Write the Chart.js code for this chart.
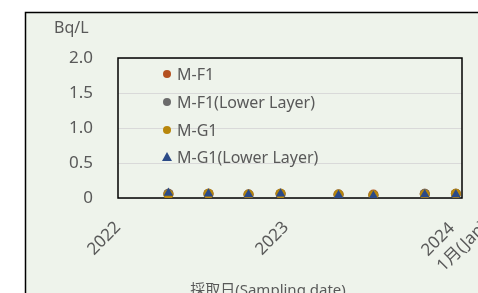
<!DOCTYPE html>
<html>
<head>
<meta charset="utf-8">
<script src="https://cdn.jsdelivr.net/npm/chart.js@4.4.1/dist/chart.umd.min.js"></script>
<style>
html,body{margin:0;padding:0;background:#fff;}
#wrap{width:478px;height:293px;position:relative;}
</style>
</head>
<body>
<div id="wrap"><canvas id="c" width="478" height="293"></canvas></div>
<script>
// ---- data ----
const sampleDates = ["2022-04-18","2022-07-12","2022-10-05","2022-12-12","2023-04-14","2023-06-27","2023-10-14","2023-12-19"];
const mF1      = [0.06,0.06,0.05,0.06,0.05,0.05,0.06,0.06];
const mF1Lower = [0.06,0.06,0.05,0.06,0.05,0.04,0.06,0.06];
const mG1      = [0.05,0.06,0.05,0.06,0.05,0.04,0.05,0.06];
const mG1Lower = [0.07,0.06,0.05,0.06,0.04,0.03,0.05,0.05];
const seriesNames = ["M-F1","M-F1(Lower Layer)","M-G1","M-G1(Lower Layer)"];
const tickDates = ["2022-01-01","2023-01-01","2024-01-01"];
const tickLabels = ["2022","2023",["2024","1月(Jan)"]];
const yTicks = [0,0.5,1.0,1.5,2.0];
const yUnit = "Bq/L";
const xTitle = "採取日(Sampling date)";

const origin = Date.UTC(2022,0,1);
const dayNum = s => { const p = s.split("-").map(Number); return (Date.UTC(p[0],p[1]-1,p[2]) - origin)/86400000; };
const tickVals = tickDates.map(dayNum);
const pts = arr => arr.map((v,i)=>({x:dayNum(sampleDates[i]), y:v}));

const colors = ["#b4501f","#6b6b6b","#b8860b","#2b4a87"];
const styles = ["circle","circle","circle","triangle"];
const FONT = "'Noto Sans', 'Noto Sans CJK JP', sans-serif";
const TXT = "#595959";

const bgPlugin = {
  id:'bg',
  beforeDraw(chart){
    const ctx = chart.ctx;
    ctx.save();
    ctx.fillStyle = "#ffffff";
    ctx.fillRect(0,0,chart.width,chart.height);
    ctx.fillStyle = "#eef3eb";
    ctx.fillRect(25,12,chart.width,chart.height);
    ctx.strokeStyle = "#000";
    ctx.lineWidth = 1.5;
    ctx.strokeRect(25.5,12.5,chart.width+10,chart.height+10);
    // adjust x tick label placement (Excel-like multi-line label, lines start-aligned)
    const xs = chart.scales.x;
    const items = xs.getLabelItems(chart.chartArea);
    const c = Math.SQRT1_2;
    items.forEach((it, i) => {
      const tr = it.options.translation;
      tr[1] += 2;
      if (i === 1) tr[0] -= 4;
      if (Array.isArray(it.label)) {
        ctx.font = it.font.string;
        const w1 = ctx.measureText(it.label[0]).width;
        it.options.textAlign = 'left';
        tr[0] += -w1 * c - 10;
        tr[1] += w1 * c + 1;
      }
    });
    ctx.restore();
  },
  beforeDatasetsDraw(chart){
    const a = chart.chartArea, ctx = chart.ctx;
    ctx.save();
    ctx.strokeStyle = "#000";
    ctx.lineWidth = 1.5;
    ctx.strokeRect(a.left, a.top, a.right-a.left, a.bottom-a.top);
    ctx.restore();
  },
  afterDraw(chart){
    const ctx = chart.ctx;
    ctx.save();
    ctx.fillStyle = TXT;
    ctx.textBaseline = "middle";
    ctx.font = "16px " + FONT;
    ctx.textAlign = "left";
    ctx.fillText(yUnit, 54, 28);
    ctx.textAlign = "center";
    ctx.font = "15px " + FONT;
    ctx.fillText(xTitle, 268, 291);
    // legend
    const ys = [74,102,130,157];
    ctx.font = "16px " + FONT;
    ctx.textAlign = "left";
    chart.data.datasets.forEach((ds,i)=>{
      const x = 167, y = ys[i];
      ctx.fillStyle = ds.backgroundColor;
      ctx.beginPath();
      if (ds.pointStyle === "triangle") {
        ctx.moveTo(x, y-5); ctx.lineTo(x+5, y+4); ctx.lineTo(x-5, y+4); ctx.closePath();
      } else {
        ctx.arc(x, y, 4, 0, Math.PI*2);
      }
      ctx.fill();
      ctx.fillStyle = TXT;
      ctx.fillText(ds.label, 177, y+1);
    });
    ctx.restore();
  }
};

const dataArrays = [mF1, mF1Lower, mG1, mG1Lower];
new Chart(document.getElementById('c'), {
  type:'scatter',
  data:{
    datasets: dataArrays.map((arr,i)=>({
      label: seriesNames[i],
      data: pts(arr),
      order: dataArrays.length - i,
      backgroundColor: colors[i],
      borderColor: colors[i],
      pointStyle: styles[i],
      pointRadius: styles[i]==="triangle" ? 5.5 : 5,
      pointBorderWidth: 0,
      showLine:false
    }))
  },
  options:{
    responsive:false,
    animation:false,
    devicePixelRatio:1,
    layout:{padding:{left:0,top:58,right:16,bottom:0}},
    plugins:{legend:{display:false}, tooltip:{enabled:false}},
    scales:{
      x:{
        type:'linear',
        min: tickVals[0], max: tickVals[tickVals.length-1],
        afterBuildTicks(scale){ scale.ticks = tickVals.map(v=>({value:v})); },
        afterFit(scale){ scale.height = 95; scale.paddingRight = 0; scale.paddingLeft = 0; },
        grid:{display:false, drawTicks:false},
        border:{display:false},
        ticks:{
          autoSkip:false, maxRotation:45, minRotation:45, padding:17,
          color:TXT, font:{family:FONT, size:17, lineHeight:1.3},
          callback(v){ const i = tickVals.indexOf(v); return i>=0 ? tickLabels[i] : ''; }
        }
      },
      y:{
        min:0, max:2,
        afterBuildTicks(scale){ scale.ticks = yTicks.map(v=>({value:v})); },
        afterFit(scale){ scale.width = 118; scale.paddingTop = 0; scale.paddingBottom = 0; },
        grid:{color:"#d9d9d9", drawTicks:false, lineWidth:1},
        border:{display:false},
        ticks:{
          padding:25, color:TXT, font:{family:FONT, size:17},
          callback(v){ return v===0 ? '0' : v.toFixed(1); }
        }
      }
    }
  },
  plugins:[bgPlugin]
});
</script>
</body>
</html>
